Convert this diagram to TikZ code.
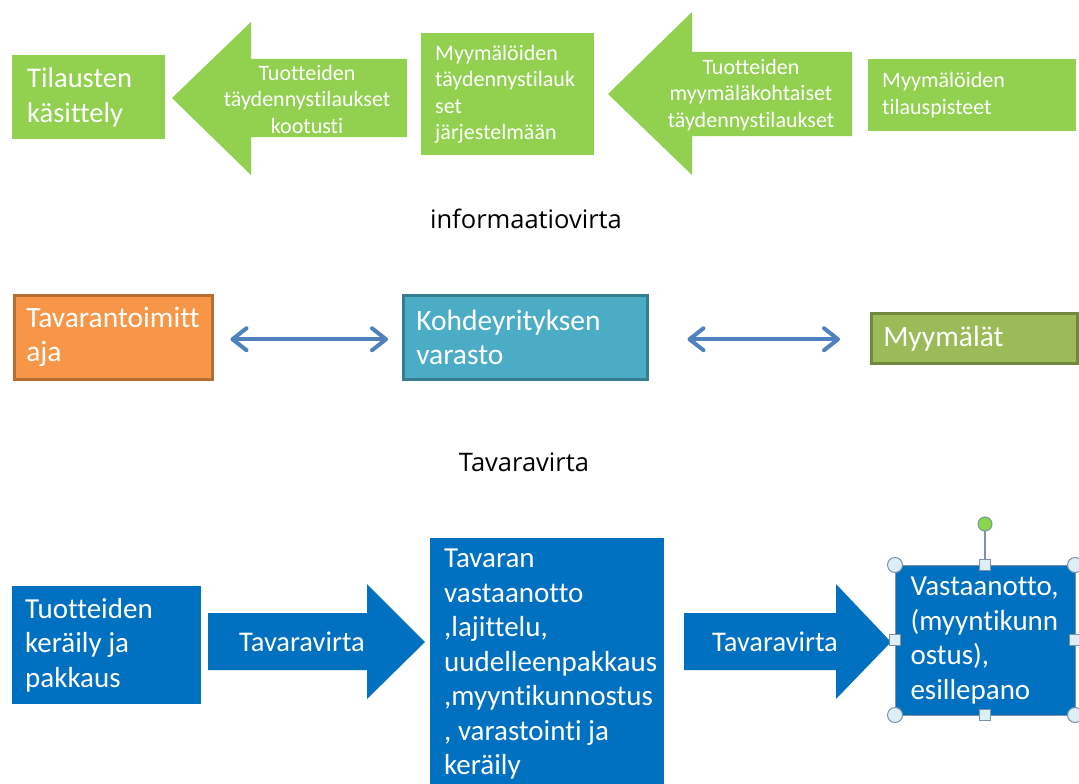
\documentclass[tikz,border=0pt]{standalone}
\usepackage{fontspec}
\setmainfont{Carlito}[Ligatures=NoCommon]
\newfontfamily\uifont{Open Sans}[Ligatures=NoCommon]
\usetikzlibrary{arrows.meta}
\hyphenpenalty=10000
\exhyphenpenalty=10000
\definecolor{lgreen}{HTML}{92D050}
\definecolor{oran}{HTML}{F79646}
\definecolor{oranB}{HTML}{B66D31}
\definecolor{teal2}{HTML}{4BACC6}
\definecolor{tealB}{HTML}{357D91}
\definecolor{olive2}{HTML}{9BBB59}
\definecolor{oliveB}{HTML}{71893F}
\definecolor{dblue}{HTML}{0070C0}
\definecolor{conn}{HTML}{4F81BD}
\definecolor{hfill}{HTML}{DDEFF6}
\definecolor{hline}{HTML}{7F92A4}
\definecolor{rotg}{HTML}{86D84A}
\tikzset{
  base/.style={anchor=north west, inner ysep=0pt, align=flush left, text=white},
  gbox/.style={base, fill=lgreen},
  mbox/.style={base, line width=2.5pt, font=\fontsize{29.5}{34}\selectfont},
  bbox/.style={base, fill=dblue, font=\fontsize{29}{34.5}\selectfont},
  small/.style={font=\fontsize{22}{26.5}\selectfont},
  big/.style={font=\fontsize{28.5}{35}\selectfont},
  atext/.style={align=center, text=white, inner sep=0pt},
  flowlabel/.style={font=\uifont\fontsize{25.5}{30}\selectfont, text=black, inner sep=0pt},
  dbl/.style={conn, line width=4pt, line cap=round,
    {Straight Barb[length=14pt,width=22pt,line cap=round,line join=round]}-{Straight Barb[length=14pt,width=22pt,line cap=round,line join=round]}},
  handle/.style={fill=hfill, draw=hline, line width=1pt}
}
\begin{document}
\begin{tikzpicture}[x=1pt,y=-1pt]
\useasboundingbox (0,0) rectangle (1079,784);
\clip (0,0) rectangle (1079,784);
\fill[white] (0,0) rectangle (1079,784);

% ---------- top row: information flow ----------
\node[gbox, big, inner xsep=15pt, minimum width=153pt, minimum height=84pt, text width=123pt] (tk) at (12,55) {Tilausten\\käsittely};

\fill[lgreen] (407,59) -- (251,59) -- (251,22) -- (172,98) -- (251,175) -- (251,137) -- (407,137) -- cycle;
\node[atext, small] (a1) at (307,99) {Tuotteiden\\täydennystilaukset\\kootusti};

\node[gbox, small, inner xsep=14pt, minimum width=173pt, minimum height=122pt, text width=145pt] (myt) at (421,33) {Myymälöiden\\täydennystilauk\\set\\järjestelmään};

\fill[lgreen] (852,52) -- (692,52) -- (692,12) -- (608,94) -- (692,175) -- (692,136) -- (852,136) -- cycle;
\node[atext, small] (a2) at (751,95) {Tuotteiden\\myymäläkohtaiset\\täydennystilaukset};

\node[gbox, small, inner xsep=14pt, minimum width=208pt, minimum height=72pt, text width=180pt] (tp) at (868,59) {Myymälöiden\\tilauspisteet};

\node[flowlabel] (info) at (526,219) {informaatiovirta};

% ---------- middle row ----------
\node[mbox, fill=oran, draw=oranB, inner xsep=12pt, minimum width=198pt, minimum height=84pt, text width=174pt] (sup) at (13,294) {Tavarantoimitt\\aja};
\node[mbox, fill=teal2, draw=tealB, inner xsep=13pt, minimum width=244pt, minimum height=84pt, text width=218pt] (wh) at (402,294) {Kohdeyrityksen\\varasto};
\node[mbox, fill=olive2, draw=oliveB, inner xsep=12pt, minimum width=206pt, minimum height=50pt, text width=182pt] (st) at (870,312) {Myymälät};

\draw[dbl] ([yshift=-2pt,xshift=17pt]sup.east) -- ([yshift=-2pt,xshift=-14pt]wh.west);
\draw[dbl] ([yshift=-2pt,xshift=39pt]wh.east) -- ([yshift=-2pt,xshift=-30pt]wh.east -| st.west);

\node[flowlabel] (goods) at (524,462) {Tavaravirta};

% ---------- bottom row ----------
\node[bbox, inner xsep=13pt, minimum width=189pt, minimum height=118pt, text width=163pt] (kp) at (12,586) {Tuotteiden\\keräily ja\\pakkaus};

\fill[dblue] (208,613) -- (367,613) -- (367,584) -- (425,642) -- (367,699) -- (367,670) -- (208,670) -- cycle;
\node[atext, big] (a3) at (302,642) {Tavaravirta};

\node[bbox, inner xsep=14pt, minimum width=234pt, minimum height=252pt, text width=206pt] (vl) at (430,538) {Tavaran\\vastaanotto\\,lajittelu,\\uudelleenpakkaus\\,myyntikunnostus\\, varastointi ja\\keräily};

\fill[dblue] (684,613) -- (836,613) -- (836,584) -- (891,642) -- (836,699) -- (836,670) -- (684,670) -- cycle;
\node[atext, big] (a4) at (775,642) {Tavaravirta};

\node[bbox, draw=hline, line width=1pt, inner xsep=15pt, minimum width=180pt, minimum height=150pt, text width=150pt] (ve) at (895,565) {Vastaanotto,\\(myyntikunn\\ostus),\\esillepano};

% selection handles
\draw[hline, line width=1.2pt] (985,531) -- (985,565);
\filldraw[fill=rotg, draw=hline, line width=1pt] (985,524) circle (7);
\foreach \p in {(895,565),(1075,565),(895,715),(1075,715)}
  \filldraw[handle] \p circle (7.5);
\foreach \p in {(985,565),(895,640),(1075,640),(985,715)}
  \filldraw[handle] \p ++(-5.5,-5.5) rectangle ++(11,11);
\end{tikzpicture}
\end{document}
